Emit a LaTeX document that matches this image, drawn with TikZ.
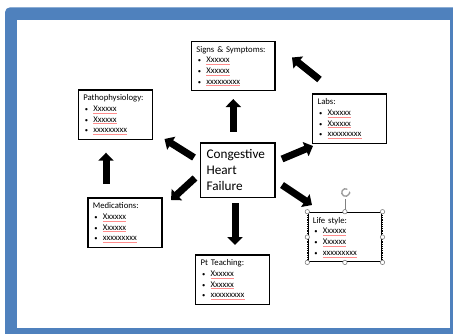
\documentclass[tikz,border=0pt]{standalone}
\usepackage{fontspec}
\setmainfont{Carlito}
\usetikzlibrary{arrows.meta, positioning}
\definecolor{frameblue}{RGB}{79,129,189}

\newcommand{\sq}[1]{\setbox0\hbox{#1}\rlap{\color{red!45}\rule[-1.6pt]{\wd0}{0.4pt}}\box0}
\newcommand{\bl}{\hspace*{1.5pt}\makebox[8.5pt][l]{\scalebox{0.75}{\textbullet}}}
\newcommand{\xlist}{\\\bl\sq{Xxxxxx}\\\bl\sq{Xxxxxx}\\\bl\sq{xxxxxxxxx}}

\begin{document}
\begin{tikzpicture}[x=1pt, y=-1pt,
		infobox/.style={draw, line width=1.2pt, anchor=north west, align=left,
			font=\fontsize{8.7}{10.7}\selectfont, inner xsep=5pt, text width=64pt,
			minimum height=49.5pt},
		fatarrow/.style={line width=7pt, -{Triangle[width=15pt,length=8pt]}},
		handle/.style={draw=gray, fill=white, line width=0.6pt}]
			\useasboundingbox (0,0) rectangle (453,333);
			% frame
			\fill[frameblue, rounded corners=5pt] (5,7.3) rectangle (470,350);
			\fill[white] (17,20) rectangle (450,328);
			% boxes
			\node[infobox, text width=73.6pt] (signs) at (190.7,40.7) {Signs \& Symptoms:\xlist};
			\node[infobox] (patho) at (77.7,89.3) {Pathophysiology:\xlist};
			\node[infobox] (labs) at (312,93.3) {Labs:\xlist};
			\node[infobox] (meds) at (87.3,197.3) {Medications:\xlist};
			\node[infobox] (life) at (307.3,211.7) {Life style:\xlist};
			\node[infobox] (teach) at (195,254.3) {Pt Teaching:\xlist};
			\node[draw, line width=1.2pt, anchor=north west, align=left, inner xsep=6pt,
				font=\fontsize{13.2}{16}\selectfont, text width=62.3pt, minimum height=54.4pt]
				(chf) at (200,142.3) {Congestive\\Heart\\Failure};
			% selected box
			\draw[white, line width=0.5pt, dash pattern=on 0.6pt off 1.6pt] (life.north west) rectangle (life.south east);
			\draw[gray, line width=0.6pt] (life.north) -- ++(0,-13);
			\draw[gray!80, line width=1.3pt, -{Stealth[length=2.5pt]}] ([shift={(60:3.8pt)}]345.5,192.5) arc[start angle=60, end angle=380, radius=3.8pt];
			\foreach \p in {north west, north, north east, west, east, south west, south, south east}{
				\draw[handle] (life.\p) circle (2.2pt);
			}
			% arrows
			\coordinate (s1) at (233.3,131.7); \coordinate (e1) at (233.3,99);
			\coordinate (s2) at (194,157.5);   \coordinate (e2) at (164.5,139);
			\coordinate (s3) at (282,159);     \coordinate (e3) at (313,146);
			\coordinate (s4) at (195,178);     \coordinate (e4) at (171,200);
			\coordinate (s5) at (282,185);     \coordinate (e5) at (312,205);
			\coordinate (s6) at (235,203);     \coordinate (e6) at (235,245);
			\coordinate (s7) at (106,184);     \coordinate (e7) at (106,152.7);
			\coordinate (s8) at (319.5,79.5);  \coordinate (e8) at (292,57.5);
			\foreach \i in {1,...,8}{
				\draw[fatarrow] (s\i) -- (e\i);
			}
		\end{tikzpicture}
\end{document}
